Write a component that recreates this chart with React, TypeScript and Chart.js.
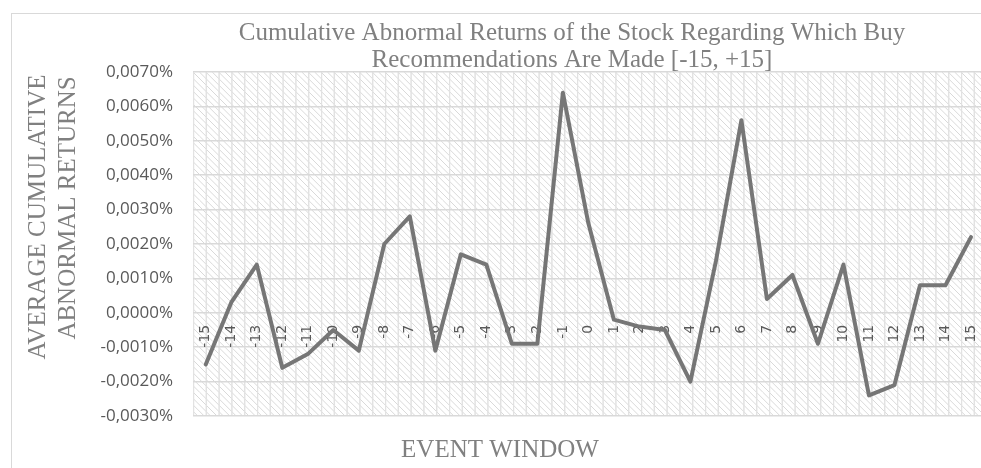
import React, { useEffect, useRef } from 'react';
import { Chart, registerables } from 'chart.js';

Chart.register(...registerables);

const categories = ['-15', '-14', '-13', '-12', '-11', '-10', '-9', '-8', '-7', '-6', '-5', '-4', '-3', '-2', '-1', '0', '1', '2', '3', '4', '5', '6', '7', '8', '9', '10', '11', '12', '13', '14', '15'];
const cumulativeAbnormalReturns = [-0.0015, 0.0003, 0.0014, -0.0016, -0.0012, -0.0005, -0.0011, 0.0020, 0.0028, -0.0011, 0.0017, 0.0014, -0.0009, -0.0009, 0.0064, 0.0026, -0.0002, -0.0004, -0.0005, -0.0020, 0.0015, 0.0056, 0.0004, 0.0011, -0.0009, 0.0014, -0.0024, -0.0021, 0.0008, 0.0008, 0.0022];
const yMin = -0.003;
const yMax = 0.007;
const yStep = 0.001;

const titleLines = ['Cumulative Abnormal Returns of the Stock Regarding Which Buy', 'Recommendations Are Made [-15, +15]'];
const yTitleLines = ['AVERAGE CUMULATIVE', 'ABNORMAL RETURNS'];
const xTitle = 'EVENT WINDOW';

function formatPct(v: number): string {
  const val = Math.abs(v) < 1e-12 ? 0 : v;
  return val.toFixed(4).replace('.', ',') + '%';
}

function makePattern(ctx: CanvasRenderingContext2D): CanvasPattern | string {
  const size = 64;
  const c = document.createElement('canvas');
  c.width = size;
  c.height = size;
  const p = c.getContext('2d');
  if (!p) return '#fff';
  p.fillStyle = '#ffffff';
  p.fillRect(0, 0, size, size);
  p.strokeStyle = '#d9d9d9';
  p.lineWidth = 1;
  for (let x0 = -size; x0 <= size; x0 += 6.4) {
    p.beginPath();
    p.moveTo(x0, 0);
    p.lineTo(x0 + size, size);
    p.stroke();
  }
  p.strokeStyle = '#e2e2e2';
  p.lineWidth = 1.5;
  for (let x = 0; x < size; x += 12.8) {
    p.beginPath();
    p.moveTo(x + 0.5, 0);
    p.lineTo(x + 0.5, size);
    p.stroke();
  }
  return ctx.createPattern(c, 'repeat') || '#fff';
}

const backgroundPlugin = {
  id: 'hatchBackground',
  beforeDraw(chart: any) {
    const { ctx, chartArea } = chart;
    if (!chartArea) return;
    ctx.save();
    ctx.fillStyle = '#ffffff';
    ctx.fillRect(0, 0, chart.width, chart.height);
    ctx.translate(chartArea.left, chartArea.top);
    ctx.fillStyle = makePattern(ctx);
    ctx.fillRect(0, 0, chartArea.right - chartArea.left, chartArea.bottom - chartArea.top);
    ctx.restore();
  },
};

const textPlugin = {
  id: 'texts',
  afterDraw(chart: any) {
    const { ctx } = chart;
    ctx.save();
    ctx.fillStyle = '#808080';
    ctx.font = '25px "Liberation Serif", "Times New Roman", serif';
    ctx.textAlign = 'center';
    ctx.textBaseline = 'alphabetic';
    ctx.fillText(titleLines[0], 572, 40);
    ctx.fillText(titleLines[1], 572, 67);
    ctx.fillText(xTitle, 500, 457);
    ctx.save();
    ctx.translate(45, 217);
    ctx.rotate(-Math.PI / 2);
    ctx.fillText(yTitleLines[0], 0, 0);
    ctx.restore();
    ctx.save();
    ctx.translate(75, 208);
    ctx.rotate(-Math.PI / 2);
    ctx.fillText(yTitleLines[1], 0, 0);
    ctx.restore();
    ctx.restore();
  },
};

export default function App() {
  const ref = useRef<HTMLCanvasElement | null>(null);
  useEffect(() => {
    if (!ref.current) return;
    const chart = new Chart(ref.current, {
      type: 'line',
      data: {
        labels: categories,
        datasets: [
          {
            data: cumulativeAbnormalReturns,
            borderColor: '#767676',
            borderWidth: 4,
            pointRadius: 0,
            tension: 0,
            borderJoinStyle: 'round',
            borderCapStyle: 'round',
            fill: false,
          },
        ],
      },
      options: {
        animation: false,
        responsive: false,
        devicePixelRatio: 1,
        layout: { padding: { left: 0, top: 72, right: 13, bottom: 52 } },
        plugins: {
          legend: { display: false },
          title: { display: false },
          tooltip: { enabled: false },
        },
        scales: {
          x: {
            type: 'category',
            position: { y: 0 } as any,
            offset: true,
            grid: { display: false, drawTicks: false },
            border: { display: false },
            ticks: {
              autoSkip: false,
              maxRotation: 90,
              minRotation: 90,
              padding: 12,
              color: '#595959',
              font: { family: '"DejaVu Sans", sans-serif', size: 14 },
            },
          },
          y: {
            min: yMin,
            max: yMax,
            afterFit(scale: any) {
              scale.width = 193;
            },
            grid: { color: '#d9d9d9', lineWidth: 1.5, drawTicks: false },
            border: { display: false },
            ticks: {
              stepSize: yStep,
              padding: 20,
              color: '#595959',
              font: { family: '"Open Sans", sans-serif', size: 17 },
              callback: (v: any) => formatPct(Number(v)),
            },
          },
        },
      },
      plugins: [backgroundPlugin, textPlugin],
    });
    return () => chart.destroy();
  }, []);

  return (
    <div style={{ position: 'fixed', left: 0, top: 0, width: 981, height: 468, overflow: 'hidden', background: '#fff' }}>
      <canvas ref={ref} width={1000} height={468} style={{ position: 'absolute', left: 0, top: 0, width: 1000, height: 468 }} />
      <div style={{ position: 'absolute', left: 11, top: 13, width: 1200, height: 600, border: '1px solid #d9d9d9', pointerEvents: 'none' }} />
    </div>
  );
}
